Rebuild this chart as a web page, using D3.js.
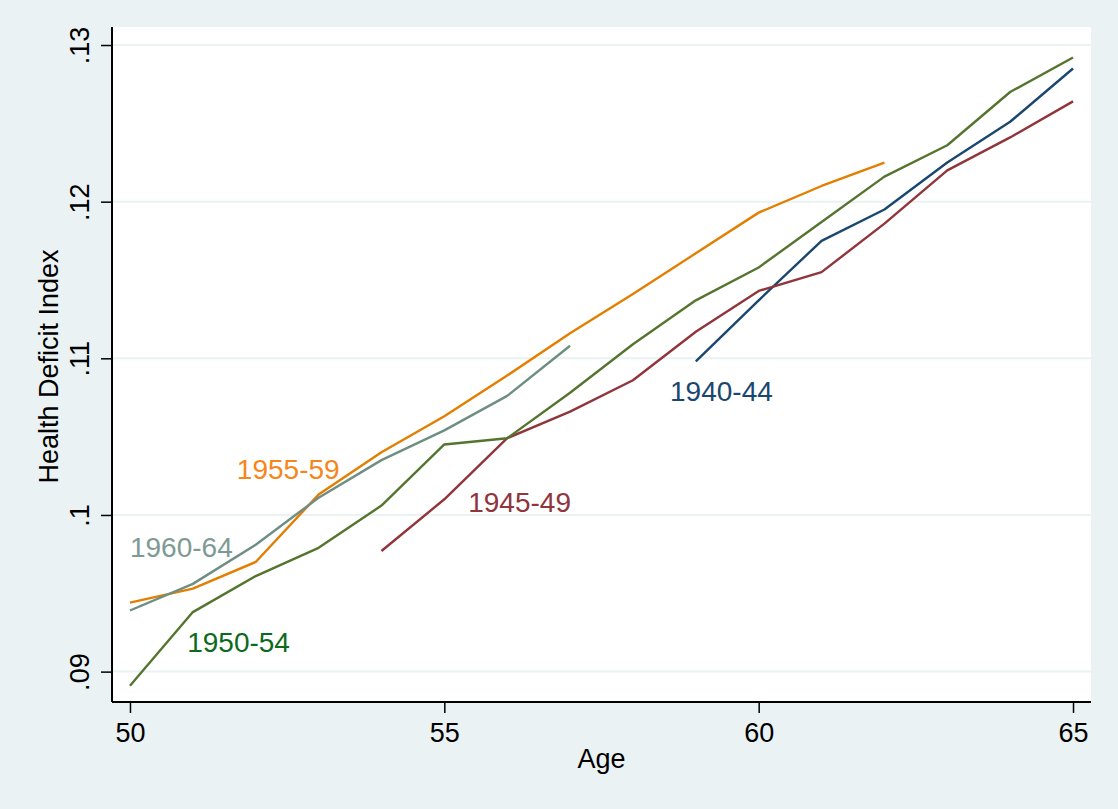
<!DOCTYPE html>
<html>
<head>
<meta charset="utf-8">
<script src="https://cdn.jsdelivr.net/npm/d3@7"></script>
<style>
  body { margin: 0; background: #eaf2f3; }
  svg { display: block; font-family: "Liberation Sans", Arial, sans-serif; }
</style>
</head>
<body>
<svg id="chart"></svg>
<script>
let width = 1118;
let height = 809;
let margin = {top: 27, right: 27, bottom: 107, left: 112};

// ages and cohort values
let ages = [50, 51, 52, 53, 54, 55, 56, 57, 58, 59, 60, 61, 62, 63, 64, 65];
let cohorts = ["1940-44", "1945-49", "1950-54", "1955-59", "1960-64"];
let firstAge = [59, 54, 50, 50, 50];

let v1940 = [.1098, .1137, .1175, .1195, .1225, .1251, .1285];
let v1945 = [.0977, .1010, .1049, .1066, .1086, .1117, .1143, .1155, .1186, .1220, .1241, .1264];
let v1950 = [.0891, .0938, .0961, .0979, .1006, .1045, .1049, .1078, .1109, .1137, .1158, .1187, .1216, .1236, .1270, .1292];
let v1955 = [.0944, .0953, .0970, .1013, .1040, .1063, .1089, .1116, .1141, .1167, .1193, .1210, .1225];
let v1960 = [.0939, .0956, .0981, .1011, .1035, .1054, .1076, .1108];
let seriesValues = [v1940, v1945, v1950, v1955, v1960];

let yTicks = [.09, .10, .11, .12, .13];
let yTickLabels = [".09", ".1", ".11", ".12", ".13"];
let xTicks = [50, 55, 60, 65];

// where each cohort name sits (age, value of the text's left baseline)
let labelAge = [58.59, 55.38, 50.91, 51.70, 50.0];
let labelValue = [.10727, .10019, .09125, .10229, .09731];

let lineColors = ["#1a476f", "#90353b", "#55752f", "#e37e00", "#6e8e84"];
let labelColors = ["#1a476f", "#90353b", "#0b6a1e", "#f7861a", "#7d9b94"];

let svg = d3.select("#chart")
    .attr("width", width)
    .attr("height", height);

let plotW = width - margin.left - margin.right;
let plotH = height - margin.top - margin.bottom;

let x = d3.scaleLinear()
    .domain([49.714, 65.286])
    .range([margin.left, margin.left + plotW]);

let y = d3.scaleLinear()
    .domain([.08806, .13115])
    .range([margin.top + plotH, margin.top]);

// white plot region
svg.append("rect")
    .attr("x", margin.left)
    .attr("y", margin.top)
    .attr("width", plotW)
    .attr("height", plotH)
    .attr("fill", "white");

// horizontal grid lines
svg.append("g")
    .selectAll("line")
    .data(yTicks)
    .enter().append("line")
    .attr("x1", margin.left)
    .attr("x2", margin.left + plotW)
    .attr("y1", d => y(d))
    .attr("y2", d => y(d))
    .attr("stroke", "#eaf2f3")
    .attr("stroke-width", 2);

// cohort lines
let line = d3.line()
    .x(d => x(d.age))
    .y(d => y(d.value));

cohorts.forEach(function (name, i) {
    let start = ages.indexOf(firstAge[i]);
    let points = seriesValues[i].map((v, j) => ({age: ages[start + j], value: v}));
    svg.append("path")
        .datum(points)
        .attr("d", line)
        .attr("fill", "none")
        .attr("stroke", lineColors[i])
        .attr("stroke-width", 2.4)
        .attr("stroke-linejoin", "round");
});

// cohort names
svg.append("g")
    .selectAll("text")
    .data(cohorts)
    .enter().append("text")
    .attr("x", (d, i) => x(labelAge[i]))
    .attr("y", (d, i) => y(labelValue[i]))
    .attr("fill", (d, i) => labelColors[i])
    .style("font-size", "28px")
    .text(d => d);

// x axis
let xAxis = d3.axisBottom(x)
    .tickValues(xTicks)
    .tickSize(11)
    .tickPadding(10)
    .tickFormat(d3.format("d"));

let gx = svg.append("g")
    .attr("transform", "translate(0," + (margin.top + plotH) + ")")
    .call(xAxis);
gx.select(".domain").attr("stroke", "black").attr("stroke-width", 2)
    .attr("d", "M" + margin.left + ",0H" + (margin.left + plotW));
gx.selectAll(".tick line").attr("stroke", "black").attr("stroke-width", 1.5);
gx.selectAll(".tick text").attr("fill", "black").style("font-size", "27px")
    .style("font-family", "'Liberation Sans', Arial, sans-serif");

// y axis
let yAxis = d3.axisLeft(y)
    .tickValues(yTicks)
    .tickSize(11)
    .tickFormat((d, i) => yTickLabels[i]);

let gy = svg.append("g")
    .attr("transform", "translate(" + margin.left + ",0)")
    .call(yAxis);
gy.select(".domain").attr("stroke", "black").attr("stroke-width", 2)
    .attr("d", "M0," + (margin.top + plotH) + "V" + margin.top);
gy.selectAll(".tick line").attr("stroke", "black").attr("stroke-width", 1.5);
gy.selectAll(".tick text")
    .attr("x", null).attr("dy", null)
    .attr("text-anchor", "middle")
    .attr("transform", "translate(-23,0) rotate(-90)")
    .attr("fill", "black")
    .style("font-size", "27px")
    .style("font-family", "'Liberation Sans', Arial, sans-serif");

// axis titles
svg.append("text")
    .attr("x", margin.left + plotW / 2)
    .attr("y", 768)
    .attr("text-anchor", "middle")
    .style("font-size", "27px")
    .text("Age");

svg.append("text")
    .attr("transform", "translate(58," + (margin.top + plotH / 2 + 2) + ") rotate(-90)")
    .attr("text-anchor", "middle")
    .style("font-size", "27px")
    .text("Health Deficit Index");
</script>
</body>
</html>
